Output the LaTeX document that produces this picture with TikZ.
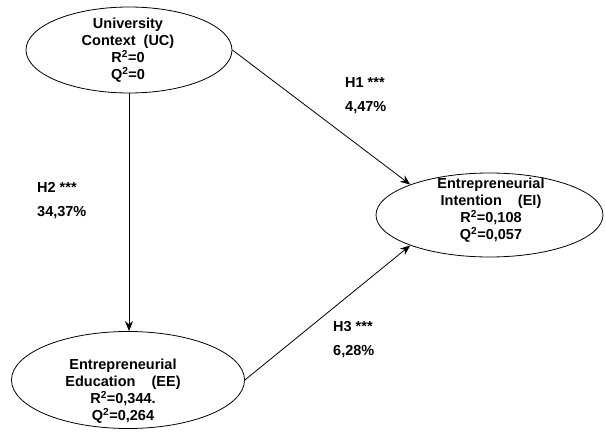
\documentclass[tikz,border=0pt]{standalone}
\usepackage{fontspec}
\setmainfont{Liberation Sans}
\usetikzlibrary{shapes.geometric,arrows.meta}

\tikzset{
  construct/.style={draw, ellipse, line width=0.8pt, inner sep=0pt},
  ctext/.style={font=\fontsize{14.5}{17}\selectfont\bfseries, align=center, inner sep=0pt},
  pathlabel/.style={font=\fontsize{14.5}{17}\selectfont\bfseries, anchor=west, inner sep=0pt},
  path/.style={line width=0.8pt, -{Stealth[length=10pt,width=8pt]}},
}

\begin{document}
\begin{tikzpicture}[x=1pt,y=-1pt]
  \useasboundingbox (0,0) rectangle (606,433);
  \fill[white] (0,0) rectangle (606,433);

  % latent constructs
  \node[construct, minimum width=206pt, minimum height=86pt] (uc) at (129,50) {};
  \node[construct, minimum width=227pt, minimum height=84pt] (ei) at (489.5,215) {};
  \node[construct, minimum width=233pt, minimum height=97pt] (ee) at (128,380) {};

  \node[ctext] (uct) at (128,50) {University\\Context\ \ (UC)\\R\textsuperscript{2}=0\\Q\textsuperscript{2}=0};
  \node[ctext] (eit) at (491,210) {Entrepreneurial\\Intention\ \ \ \ (EI)\\R\textsuperscript{2}=0,108\\Q\textsuperscript{2}=0,057};
  \node[ctext] (eet) at (123,391) {Entrepreneurial\\Education\ \ \ \ (EE)\\R\textsuperscript{2}=0,344.\\Q\textsuperscript{2}=0,264};

  % structural paths
  \draw[path] (uc.east) -- (ei.159);
  \draw[path] (uc.south) -- (uc.south |- ee.north);
  \draw[path] (ee.east) -- (ei.201);

  % path coefficients
  \node[pathlabel] (h1) at (345,83) {H1 ***};
  \node[pathlabel] (h1v) at (345,108) {4,47\%};
  \node[pathlabel] (h2) at (37,187) {H2 ***};
  \node[pathlabel] (h2v) at (37,213) {34,37\%};
  \node[pathlabel] (h3) at (333,327) {H3 ***};
  \node[pathlabel] (h3v) at (333,352) {6,28\%};
\end{tikzpicture}
\end{document}
